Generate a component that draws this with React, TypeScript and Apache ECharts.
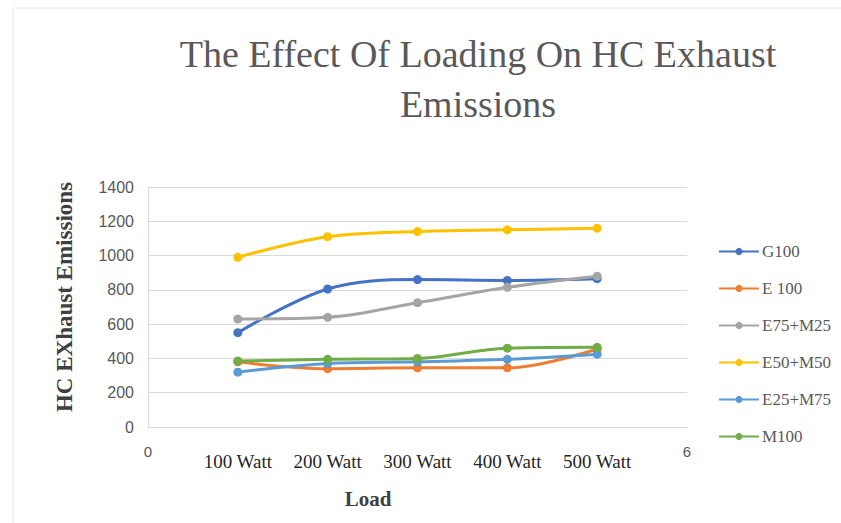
import React, { useEffect, useRef } from "react";
import * as echarts from "echarts";

// Load steps (x positions 1..5) and their axis labels
const loadSteps = [1, 2, 3, 4, 5];
const loadLabels = ["100 Watt", "200 Watt", "300 Watt", "400 Watt", "500 Watt"];

// HC exhaust emissions per fuel blend
const g100 = [550, 805, 860, 855, 865];
const e100 = [380, 340, 345, 345, 455];
const e75m25 = [630, 640, 725, 815, 880];
const e50m50 = [990, 1110, 1140, 1150, 1160];
const e25m75 = [320, 370, 380, 395, 425];
const m100 = [385, 395, 400, 460, 465];

const seriesNames = ["G100", "E 100", "E75+M25", "E50+M50", "E25+M75", "M100"];
const seriesValues = [g100, e100, e75m25, e50m50, e25m75, m100];
const seriesColors = ["#4472C4", "#ED7D31", "#A5A5A5", "#FFC000", "#5B9BD5", "#70AD47"];

const SERIF = "'Liberation Serif', 'DejaVu Serif', serif";
const SANS = "'Liberation Sans', 'DejaVu Sans', sans-serif";

export default function App() {
  const ref = useRef<HTMLDivElement>(null);

  useEffect(() => {
    if (!ref.current) return;
    const chart = echarts.init(ref.current, undefined, { renderer: "svg" });

    const series = seriesNames.map((name, i) => ({
      name,
      type: "line" as const,
      xAxisIndex: 0,
      yAxisIndex: 0,
      smooth: 0.35,
      symbol: "circle",
      symbolSize: 9,
      data: loadSteps.map((x, j) => [x, seriesValues[i][j]]),
      lineStyle: { width: 3, color: seriesColors[i] },
      itemStyle: { color: seriesColors[i] },
    }));

    chart.setOption({
      animation: false,
      backgroundColor: "#ffffff",
      title: {
        text: "The Effect Of Loading On HC Exhaust\nEmissions",
        left: 473,
        top: 24,
        textAlign: "center",
        textStyle: {
          fontFamily: SERIF,
          fontWeight: "normal",
          fontSize: 38,
          lineHeight: 50,
          color: "#595959",
        },
      },
      legend: {
        orient: "vertical",
        left: 718,
        top: 243,
        padding: 0,
        itemWidth: 40,
        itemHeight: 9,
        itemGap: 20,
        textStyle: { fontFamily: SERIF, fontSize: 17, color: "#595959", padding: [0, 0, 0, -2] },
        data: seriesNames,
      },
      grid: { left: 148, top: 187, width: 539, height: 240 },
      xAxis: [
        {
          type: "value",
          min: 0,
          max: 6,
          interval: 1,
          position: "bottom",
          axisLine: { show: true, lineStyle: { color: "#d9d9d9", width: 1 } },
          axisTick: { show: false },
          splitLine: { show: false },
          axisLabel: {
            margin: 17,
            fontFamily: SANS,
            fontSize: 15,
            color: "#595959",
            formatter: (v: number) => (v === 0 || v === 6 ? String(v) : ""),
          },
        },
        {
          type: "value",
          min: 0,
          max: 6,
          interval: 1,
          position: "bottom",
          axisLine: { show: false },
          axisTick: { show: false },
          splitLine: { show: false },
          axisLabel: {
            margin: 25,
            fontFamily: SERIF,
            fontSize: 19,
            color: "#262626",
            formatter: (v: number) => loadLabels[v - 1] ?? "",
          },
        },
      ],
      yAxis: {
        type: "value",
        min: 0,
        max: 1400,
        interval: 200,
        axisLine: { show: true, lineStyle: { color: "#d9d9d9" } },
        axisTick: { show: false },
        splitLine: { show: true, lineStyle: { color: "#d9d9d9", width: 1 } },
        axisLabel: {
          margin: 14,
          fontFamily: SANS,
          fontSize: 16,
          color: "#595959",
          formatter: (v: number) => String(v),
        },
      },
      graphic: [
        {
          type: "rect",
          shape: { x: 13, y: 8, width: 840, height: 530 },
          style: { fill: "none", stroke: "#e6e6e6", lineWidth: 1 },
          silent: true,
        },
        {
          // vertical axis title
          type: "text",
          x: 64,
          y: 297,
          rotation: Math.PI / 2,
          style: {
            text: "HC EXhaust Emissions",
            fontFamily: SERIF,
            fontSize: 23,
            fontWeight: "bold",
            fill: "#404040",
            align: "center",
            verticalAlign: "middle",
          },
          silent: true,
        },
        {
          // horizontal axis title
          type: "text",
          x: 368,
          y: 499,
          style: {
            text: "Load",
            fontFamily: SERIF,
            fontSize: 21,
            fontWeight: "bold",
            fill: "#404040",
            align: "center",
            verticalAlign: "middle",
          },
          silent: true,
        },
      ],
      series,
    });

    return () => chart.dispose();
  }, []);

  return (
    <div
      ref={ref}
      style={{ position: "fixed", left: 0, top: 0, width: 841, height: 523 }}
    />
  );
}
